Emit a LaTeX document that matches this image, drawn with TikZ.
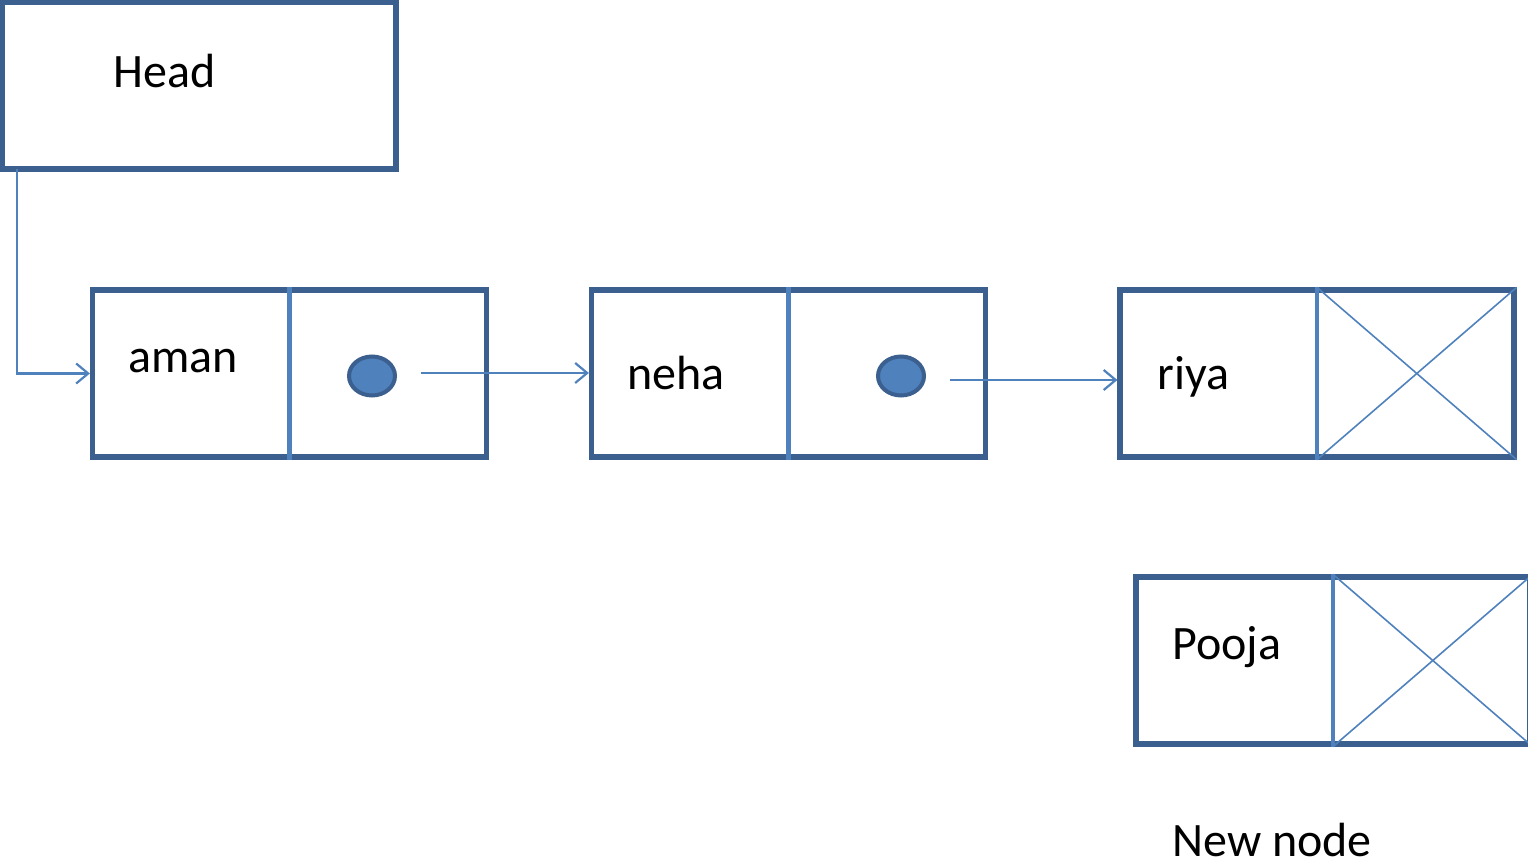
\documentclass[tikz,border=0pt]{standalone}
\usepackage{fontspec}
\setmainfont{Carlito}
\usetikzlibrary{arrows.meta,shapes.geometric}
\definecolor{frame}{HTML}{3B5F8E}
\definecolor{accent}{HTML}{4F81BD}
\begin{document}
\begin{tikzpicture}[x=0.5pt,y=-0.5pt,
  box/.style={draw=frame,line width=2.6pt,inner sep=0pt,minimum width=197pt,minimum height=83.5pt},
  divider/.style={draw=accent,line width=2.4pt},
  nullx/.style={draw=accent,line width=0.8pt},
  ptr/.style={draw=accent,line width=1.1pt,-{Straight Barb[length=6pt,width=10pt,line width=1.1pt]}},
  dot/.style={ellipse,draw=frame,fill=accent,line width=2pt,inner sep=0pt,minimum width=23pt,minimum height=19.5pt},
  label/.style={anchor=base west,inner sep=0pt,font=\fontsize{24}{29}\selectfont}]
\useasboundingbox (0,0) rectangle (1528,865);

% head pointer box
\node[box] (head) at (199,85.5) {};
\node[label] (headtxt) at (113,88) {Head};

% list cells
\node[box] (aman) at (289.5,373.5) {};
\node[box] (neha) at (788.5,373.5) {};
\node[box] (riya) at (1317,373.5) {};
\node[box] (pooja) at (1333,660.5) {};

% data / link dividers
\draw[divider] (aman.north) -- (aman.south);
\draw[divider] (neha.north) -- (neha.south);
\draw[nullx] (riya.north) -- (riya.south east) (riya.south) -- (riya.north east);
\draw[divider] (riya.north) -- (riya.south);
\draw[nullx] (pooja.north) -- (pooja.south east) (pooja.south) -- (pooja.north east);
\draw[divider] (pooja.north) -- (pooja.south);

% labels
\node[label] (amantxt) at (128,373) {aman};
\node[label] (nehatxt) at (627,390) {neha};
\node[label] (riyatxt) at (1157,390) {riya};
\node[label] (poojatxt) at (1172,660) {Pooja};
\node[label] (newtxt) at (1172,857) {New node};

% next pointers
\node[dot] (adot) at (372,376) {};
\node[dot] (ndot) at (901,376) {};
\coordinate (astart) at (421,373);
\coordinate (nstart) at (950,380);
\coordinate (hstart) at (17,169);

\draw[ptr] (hstart) |- (aman.west);
\draw[ptr] (astart) -- (astart -| neha.west);
\draw[ptr] (nstart) -- (nstart -| riya.west);
\end{tikzpicture}
\end{document}
